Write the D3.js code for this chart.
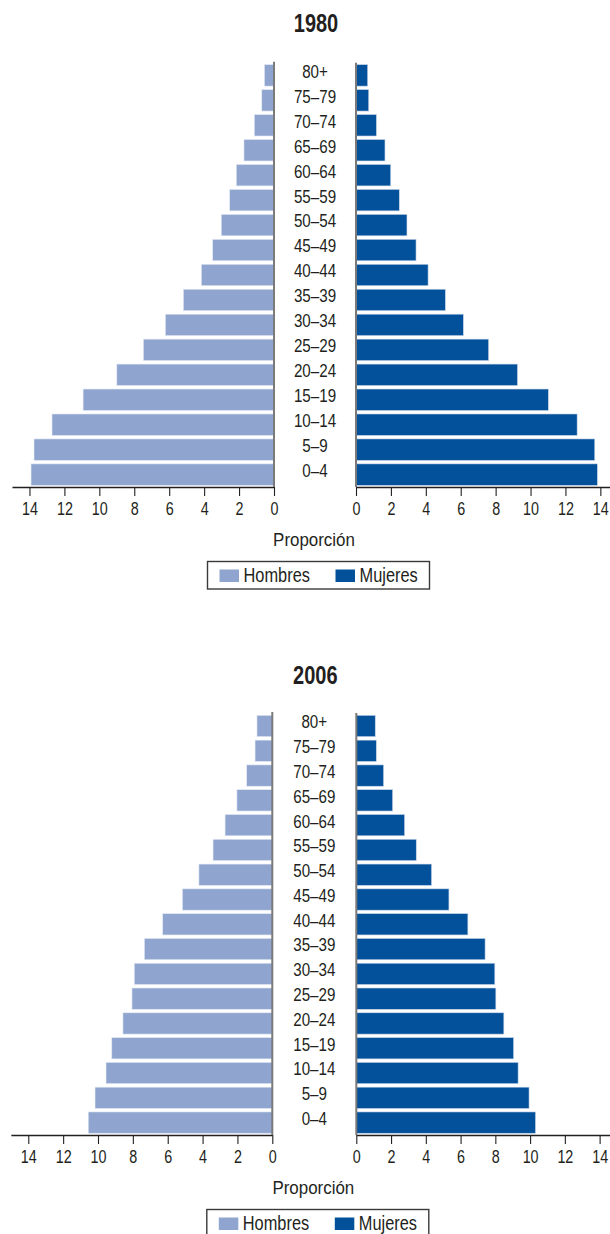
<!DOCTYPE html>
<html><head><meta charset="utf-8">
<script src="https://cdn.jsdelivr.net/npm/d3@7"></script>
<style>
body{margin:0;background:#fff}
svg{display:block}
text{font-family:"Liberation Sans",Arial,sans-serif;fill:#231f20}
</style>
</head><body>
<svg id="c" width="610" height="1234"></svg>
<script>
// ---- data (age groups from youngest to oldest) ----
const ageGroups = ["0–4","5–9","10–14","15–19","20–24","25–29","30–34","35–39","40–44","45–49","50–54","55–59","60–64","65–69","70–74","75–79","80+"];
const years = ["1980","2006"];
const hombres1980 = [13.91,13.74,12.71,10.93,9.00,7.48,6.22,5.19,4.16,3.51,3.02,2.54,2.16,1.72,1.13,0.70,0.55];
const mujeres1980 = [13.83,13.68,12.67,11.02,9.25,7.60,6.15,5.12,4.13,3.44,2.92,2.48,1.99,1.66,1.17,0.73,0.67];
const hombres2006 = [10.56,10.17,9.54,9.21,8.57,8.05,7.92,7.34,6.29,5.16,4.21,3.40,2.71,2.03,1.47,0.99,0.88];
const mujeres2006 = [10.31,9.94,9.31,9.05,8.49,8.03,7.97,7.41,6.42,5.33,4.33,3.45,2.78,2.09,1.57,1.15,1.09];
const tickValues = [0,2,4,6,8,10,12,14];
const seriesNames = ["Hombres","Mujeres"];
const axisTitle = "Proporción";

const colors = {Hombres:"#8fa5d0", Mujeres:"#02519a"};
const NARROW = 0.82;

const panels = [
  {year:years[0], men:hombres1980, women:mujeres1980, titleY:32.3, band:[62.9,487.1], axisY:487,
   lZero:274, lEnd:12, rZero:356, rEnd:617.8, vTop:61.7},
  {year:years[1], men:hombres2006, women:mujeres2006, titleY:684, band:[713.6,1135], axisY:1135,
   lZero:272.3, lEnd:10.85, rZero:356.3, rEnd:617, vTop:712}
];

const svg = d3.select("#c");

function ntext(parent, x, y, str, size, anchor, opts={}) {
  const t = parent.append("text")
    .attr("transform", `translate(${x},${y}) scale(${opts.k || NARROW},1)`)
    .attr("text-anchor", anchor || "start")
    .style("font-size", size + "px")
    .text(str);
  if (opts.bold) t.style("font-weight","bold");
  return t;
}

panels.forEach(p => {
  const g = svg.append("g");
  const y = d3.scaleBand().domain(ageGroups.slice().reverse()).range(p.band).paddingInner(0.14).paddingOuter(0.07);
  const xL = d3.scaleLinear().domain([0,15]).range([p.lZero, p.lEnd]);
  const xR = d3.scaleLinear().domain([0,15]).range([p.rZero, p.rEnd]);
  const center = (p.lZero + p.rZero)/2;

  // title
  ntext(g, center+1, p.titleY, p.year, 25, "middle", {bold:true, k:0.8});

  // bars
  g.selectAll(".m").data(ageGroups).join("rect")
    .attr("x", (d,i) => xL(p.men[i])).attr("y", d => y(d))
    .attr("width", (d,i) => xL(0) - xL(p.men[i])).attr("height", y.bandwidth())
    .attr("fill", colors.Hombres).attr("stroke","#e4e9f3").attr("stroke-width",0.6);
  g.selectAll(".w").data(ageGroups).join("rect")
    .attr("x", xR(0)).attr("y", d => y(d))
    .attr("width", (d,i) => xR(p.women[i]) - xR(0)).attr("height", y.bandwidth())
    .attr("fill", colors.Mujeres).attr("stroke","#c9d6ea").attr("stroke-width",0.6);

  // category labels
  ageGroups.forEach(a => {
    ntext(g, center, y(a) + y.bandwidth()/2 + 2.4, a, 18.5, "middle");
  });

  // axes
  const mkAxis = sc => d3.axisBottom(sc).tickValues(tickValues).tickFormat(d3.format("d"))
    .tickSize(9).tickSizeOuter(0).tickPadding(5);
  [xL, xR].forEach(sc => {
    const ax = g.append("g").attr("transform", `translate(0,${p.axisY})`).call(mkAxis(sc));
    ax.select(".domain").attr("stroke","#231f20").attr("stroke-width",1.3);
    ax.selectAll(".tick line").attr("stroke","#231f20").attr("stroke-width",1.1);
    ax.selectAll(".tick text").style("font-size","17.5px").attr("fill","#231f20")
      .style("font-family",'"Liberation Sans",Arial,sans-serif')
      .attr("y", null).attr("dy", null)
      .attr("transform", `translate(0,28.3) scale(${NARROW},1)`);
  });

  // vertical zero lines
  g.append("line").attr("x1", xL(0)).attr("x2", xL(0)).attr("y1", p.vTop).attr("y2", p.axisY)
    .attr("stroke","#7a7a7a").attr("stroke-width",2);
  g.append("line").attr("x1", xR(0)).attr("x2", xR(0)).attr("y1", p.vTop+1).attr("y2", p.axisY)
    .attr("stroke","#7a7a7a").attr("stroke-width",2);

  // axis title
  ntext(g, center - 1, p.axisY + 58.5, axisTitle, 18.5, "middle", {k:0.915});

  // legend
  const lg = g.append("g").attr("transform", `translate(${center - 107.5},${p.axisY + 74.5})`);
  lg.append("rect").attr("x",0).attr("y",0).attr("width",222).attr("height",27.5)
    .attr("fill","#fff").attr("stroke","#3a3a3a").attr("stroke-width",1.4);
  seriesNames.forEach((s,i) => {
    const ox = 12 + i*116;
    lg.append("rect").attr("x", ox).attr("y", 8).attr("width", 19.5).attr("height", 12.5).attr("fill", colors[s]);
    ntext(lg, ox + 24, 20.5, s, 19.5, "start", {k:0.84});
  });
});
</script>
</body></html>
